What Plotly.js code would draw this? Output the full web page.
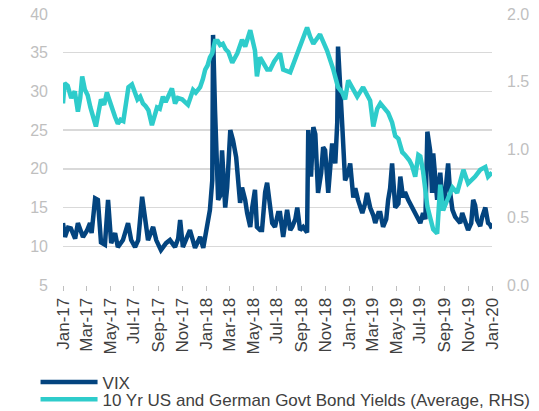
<!DOCTYPE html>
<html>
<head>
<meta charset="utf-8">
<script src="https://cdn.plot.ly/plotly-3.0.1.min.js"></script>
<style>html,body{margin:0;padding:0;background:#fff;}#chart{width:539px;height:411px;}</style>
</head>
<body>
<div id="chart"></div>
<script>
// VIX (left axis)
const vixDates = ["2017-01-01","2017-01-06","2017-01-14","2017-01-21","2017-02-01","2017-02-08","2017-02-21","2017-03-03","2017-03-11","2017-03-15","2017-03-24","2017-03-31","2017-04-08","2017-04-18","2017-04-26","2017-05-04","2017-05-14","2017-05-21","2017-06-03","2017-06-16","2017-06-24","2017-07-04","2017-07-12","2017-07-22","2017-07-29","2017-08-06","2017-08-19","2017-08-27","2017-09-08","2017-09-21","2017-10-01","2017-10-14","2017-10-22","2017-10-27","2017-11-03","2017-11-14","2017-11-21","2017-12-04","2017-12-12","2017-12-17","2017-12-25","2018-01-04","2018-01-11","2018-01-17","2018-01-19","2018-01-24","2018-01-29","2018-02-01","2018-02-06","2018-02-11","2018-02-19","2018-02-24","2018-03-04","2018-03-11","2018-03-19","2018-03-24","2018-03-29","2018-04-03","2018-04-11","2018-04-16","2018-04-24","2018-04-29","2018-05-06","2018-05-11","2018-05-19","2018-05-24","2018-06-01","2018-06-06","2018-06-14","2018-06-19","2018-06-26","2018-07-04","2018-07-09","2018-07-17","2018-07-27","2018-08-04","2018-08-09","2018-08-17","2018-08-22","2018-08-29","2018-09-06","2018-09-11","2018-09-16","2018-09-19","2018-09-26","2018-10-02","2018-10-07","2018-10-14","2018-10-22","2018-10-27","2018-11-01","2018-11-09","2018-11-19","2018-11-27","2018-12-02","2018-12-04","2018-12-09","2018-12-15","2018-12-22","2018-12-30","2019-01-04","2019-01-12","2019-01-17","2019-01-24","2019-02-04","2019-02-11","2019-02-16","2019-02-24","2019-03-04","2019-03-09","2019-03-17","2019-03-22","2019-03-29","2019-04-06","2019-04-11","2019-04-16","2019-04-21","2019-04-29","2019-05-07","2019-05-12","2019-05-19","2019-05-24","2019-06-01","2019-06-06","2019-06-14","2019-06-22","2019-06-27","2019-07-02","2019-07-09","2019-07-15","2019-07-20","2019-07-27","2019-08-01","2019-08-04","2019-08-09","2019-08-14","2019-08-22","2019-08-29","2019-09-04","2019-09-11","2019-09-16","2019-09-22","2019-09-29","2019-10-04","2019-10-12","2019-10-17","2019-10-25","2019-11-01","2019-11-09","2019-11-14","2019-11-19","2019-11-24","2019-12-02","2019-12-07","2019-12-15","2019-12-22","2019-12-27","2020-01-01"];
const vixValues = [13.0,11.2,12.4,12.3,11.0,13.0,11.2,12.0,13.0,11.7,16.2,16.0,10.5,10.2,16.0,10.4,11.7,9.9,10.8,13.0,10.8,9.9,10.8,16.4,13.8,10.8,12.5,10.8,9.5,10.4,10.8,9.9,11.0,13.4,9.9,11.5,12.1,9.8,10.5,11.2,9.8,12.5,14.7,18.5,37.3,27.6,19.8,16.0,16.5,22.4,15.0,17.6,25.0,23.7,21.5,18.2,15.6,17.6,16.0,14.3,12.5,15.0,17.3,12.5,12.1,12.1,17.0,18.2,15.0,13.0,12.5,14.3,14.3,11.2,14.7,12.1,12.5,13.5,15.0,12.1,12.5,12.1,11.8,25.0,19.0,25.4,24.5,16.9,19.5,22.8,22.4,16.9,23.3,20.7,26.0,35.8,30.0,25.4,18.5,19.5,20.7,16.3,17.5,16.0,14.3,15.5,16.9,15.0,14.0,13.0,14.3,14.3,12.5,13.5,16.0,17.5,20.7,15.0,15.5,19.0,16.3,17.0,16.0,15.5,14.7,13.8,13.4,13.0,14.3,13.5,24.8,22.4,16.9,22.0,19.0,16.0,19.5,14.7,17.0,20.7,17.0,14.7,13.8,13.4,13.0,14.3,13.0,12.1,13.0,16.0,15.3,13.4,12.6,13.8,15.0,13.0,12.8,12.3];

// 10Y US & German govt bond yield average (right axis)
const bondDates = ["2017-01-01","2017-01-05","2017-01-13","2017-01-22","2017-01-31","2017-02-08","2017-02-14","2017-02-19","2017-02-26","2017-03-05","2017-03-12","2017-03-19","2017-03-26","2017-04-02","2017-04-08","2017-04-16","2017-04-23","2017-04-30","2017-05-07","2017-05-14","2017-05-21","2017-05-28","2017-06-04","2017-06-11","2017-06-17","2017-06-26","2017-07-03","2017-07-10","2017-07-17","2017-07-24","2017-07-31","2017-08-07","2017-08-16","2017-08-22","2017-08-29","2017-09-05","2017-09-13","2017-09-20","2017-09-27","2017-10-06","2017-10-14","2017-10-21","2017-11-01","2017-11-08","2017-11-16","2017-11-22","2017-11-29","2017-12-06","2017-12-17","2017-12-24","2017-12-30","2018-01-05","2018-01-11","2018-01-17","2018-01-24","2018-01-31","2018-02-06","2018-02-13","2018-02-20","2018-02-27","2018-03-04","2018-03-09","2018-03-22","2018-04-03","2018-04-11","2018-04-24","2018-05-06","2018-05-11","2018-05-19","2018-06-06","2018-06-14","2018-06-24","2018-07-09","2018-07-17","2018-08-04","2018-08-22","2018-09-03","2018-09-16","2018-09-24","2018-10-02","2018-10-19","2018-10-30","2018-11-06","2018-11-22","2018-12-04","2018-12-15","2018-12-22","2018-12-30","2019-01-12","2019-01-22","2019-02-06","2019-02-16","2019-02-24","2019-03-04","2019-03-14","2019-03-22","2019-04-01","2019-04-11","2019-04-21","2019-04-29","2019-05-07","2019-05-17","2019-05-24","2019-06-04","2019-06-11","2019-06-19","2019-06-27","2019-07-02","2019-07-09","2019-07-20","2019-07-27","2019-08-04","2019-08-14","2019-08-22","2019-08-29","2019-09-09","2019-09-22","2019-10-04","2019-10-20","2019-11-01","2019-11-19","2019-12-02","2019-12-15","2019-12-22","2020-01-01"];
const bondValues = [1.34,1.49,1.47,1.38,1.43,1.28,1.38,1.54,1.44,1.40,1.31,1.25,1.17,1.28,1.37,1.33,1.42,1.36,1.29,1.24,1.19,1.22,1.21,1.35,1.46,1.48,1.43,1.37,1.39,1.34,1.32,1.29,1.18,1.25,1.31,1.30,1.39,1.35,1.40,1.45,1.34,1.38,1.37,1.35,1.33,1.38,1.44,1.42,1.46,1.52,1.59,1.62,1.68,1.71,1.80,1.80,1.77,1.78,1.74,1.72,1.68,1.64,1.71,1.81,1.76,1.88,1.73,1.54,1.68,1.59,1.59,1.65,1.71,1.59,1.57,1.71,1.78,1.90,1.83,1.78,1.85,1.78,1.73,1.59,1.46,1.42,1.37,1.51,1.44,1.39,1.46,1.40,1.36,1.17,1.30,1.34,1.30,1.27,1.20,1.10,1.08,0.98,0.96,0.92,0.88,0.80,0.96,0.95,0.84,0.58,0.50,0.41,0.38,0.74,0.55,0.63,0.72,0.68,0.85,0.75,0.80,0.85,0.87,0.80,0.83];

const tickDates = ["2017-01-01","2017-03-01","2017-05-01","2017-07-01","2017-09-01","2017-11-01","2018-01-01","2018-03-01","2018-05-01","2018-07-01","2018-09-01","2018-11-01","2019-01-01","2019-03-01","2019-05-01","2019-07-01","2019-09-01","2019-11-01","2020-01-01"];
const tickLabels = ["Jan-17","Mar-17","May-17","Jul-17","Sep-17","Nov-17","Jan-18","Mar-18","May-18","Jul-18","Sep-18","Nov-18","Jan-19","Mar-19","May-19","Jul-19","Sep-19","Nov-19","Jan-20"];
const leftTicks = [5,10,15,20,25,30,35,40];
const rightTicks = [0,0.5,1.0,1.5,2.0];
const rightTickLabels = ["0.0","0.5","1.0","1.5","2.0"];

const FONT = "Liberation Sans, Arial, sans-serif";

const traces = [
  {x: vixDates, y: vixValues, name: "VIX", type: "scatter", mode: "lines",
   line: {color: "#03447F", width: 4.5}, yaxis: "y", legend: "legend"},
  {x: bondDates, y: bondValues, name: "10 Yr US and German Govt Bond Yields (Average, RHS)", type: "scatter", mode: "lines",
   line: {color: "#2ECCCB", width: 4.5}, yaxis: "y2", legend: "legend2"}
];

const legendStyle = {xanchor: "left", yanchor: "top", orientation: "v",
  font: {family: FONT, size: 17, color: "#404040"}, itemwidth: 57,
  tracegroupgap: 0, bgcolor: "rgba(0,0,0,0)"};

const layout = {
  width: 539, height: 411,
  margin: {l: 63, r: 47, t: 14, b: 126, autoexpand: false},
  paper_bgcolor: "#fff", plot_bgcolor: "#fff",
  font: {family: FONT, size: 15, color: "#404040"},
  showlegend: true,
  legend: Object.assign({x: -0.064, y: -0.293}, legendStyle),
  legend2: Object.assign({x: -0.064, y: -0.357}, legendStyle),
  xaxis: {type: "date", range: ["2017-01-01", "2020-01-01"], automargin: false,
          tickmode: "array", tickvals: tickDates, ticktext: tickLabels,
          tickangle: -90, ticks: "outside", ticklen: 5, tickcolor: "#BFBFBF", tickwidth: 1,
          showline: false, showgrid: false, zeroline: false,
          tickfont: {family: FONT, size: 17, color: "#404040"}},
  yaxis: {range: [5, 40], tickmode: "array", tickvals: leftTicks, automargin: false,
          showgrid: true, gridcolor: "#D9D9D9", gridwidth: 1.5, zeroline: false,
          showline: false, ticks: "", ticklabelstandoff: 14,
          tickfont: {family: FONT, size: 16, color: "#BFBFBF"}},
  yaxis2: {range: [0, 2], overlaying: "y", side: "right", tickmode: "array", automargin: false,
           tickvals: rightTicks, ticktext: rightTickLabels,
           showgrid: false, zeroline: false, showline: false, ticks: "", ticklabelstandoff: 14,
           tickfont: {family: FONT, size: 16, color: "#BFBFBF"}}
};

Plotly.newPlot("chart", traces, layout, {displayModeBar: false, staticPlot: true});
</script>
</body>
</html>
